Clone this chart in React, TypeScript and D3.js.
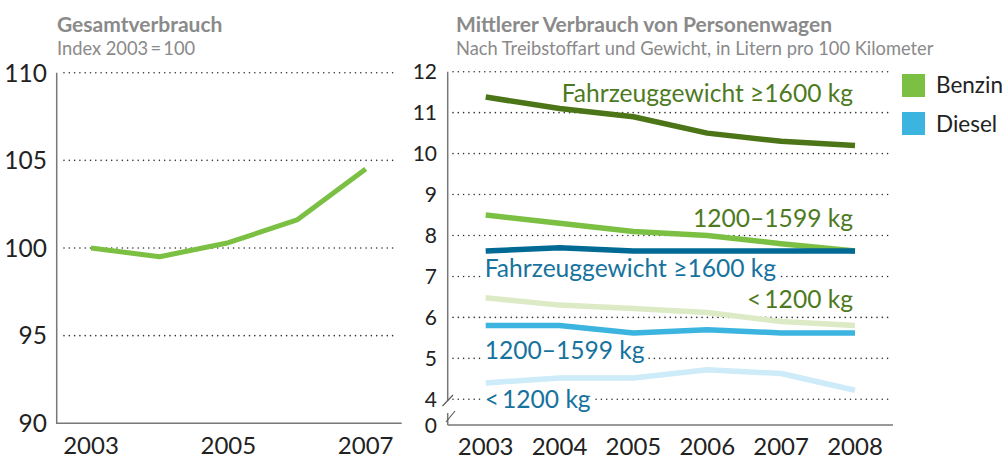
import React, { useEffect, useRef } from "react";
import * as d3 from "d3";

// Gesamtverbrauch, Index 2003 = 100
const totalYears = [2003, 2004, 2005, 2006, 2007];
const totalIndex = [100, 99.5, 100.3, 101.6, 104.5];
const totalTicks = [90, 95, 100, 105, 110];
const totalYearTicks = [2003, 2005, 2007];

// Mittlerer Verbrauch, l/100 km
const years = [2003, 2004, 2005, 2006, 2007, 2008];
const benzinHeavy = [11.38, 11.1, 10.9, 10.5, 10.3, 10.2];
const benzinMid = [8.5, 8.3, 8.1, 8.0, 7.8, 7.62];
const benzinLight = [6.48, 6.3, 6.22, 6.12, 5.9, 5.8];
const dieselHeavy = [7.62, 7.7, 7.62, 7.62, 7.62, 7.62];
const dieselMid = [5.8, 5.8, 5.62, 5.7, 5.62, 5.62];
const dieselLight = [4.4, 4.52, 4.52, 4.72, 4.63, 4.22];
const rightTicks = [4, 5, 6, 7, 8, 9, 10, 11, 12];

const legendItems = ["Benzin", "Diesel"];

const GREEN = "#7bc043";
const BLUE = "#3cb4e0";
const GREEN_TEXT = "#4e7a1f";
const BLUE_TEXT = "#17739e";

const series = [
  { values: benzinLight, color: "#dcebc5" },
  { values: dieselLight, color: "#cdebf8" },
  { values: dieselMid, color: BLUE },
  { values: benzinMid, color: GREEN },
  { values: dieselHeavy, color: "#006a94" },
  { values: benzinHeavy, color: "#4b7517" },
];

// annotation texts, anchored in data units (year, value)
const seriesLabels = [
  { text: "Fahrzeuggewicht \u22651600 kg", year: 2008, value: 11.26, color: GREEN_TEXT, anchor: "end", bg: false },
  { text: "1200\u20131599 kg", year: 2008, value: 8.21, color: GREEN_TEXT, anchor: "end", bg: false },
  { text: "<\u20091200 kg", year: 2008, value: 6.23, color: GREEN_TEXT, anchor: "end", bg: false },
  { text: "Fahrzeuggewicht \u22651600 kg", year: 2003, value: 6.99, color: BLUE_TEXT, anchor: "start", bg: true },
  { text: "1200\u20131599 kg", year: 2003, value: 4.98, color: BLUE_TEXT, anchor: "start", bg: true },
  { text: "<\u20091200 kg", year: 2003, value: 3.79, color: BLUE_TEXT, anchor: "start", bg: true },
];

const FONT = "Lato, 'Noto Sans', sans-serif";

const App: React.FC = () => {
  const svgRef = useRef<SVGSVGElement>(null);

  useEffect(() => {
    if (!svgRef.current) return;
    const svg = d3.select(svgRef.current);
    svg.selectAll("*").remove();
    svg.attr("font-family", FONT);

    // ---------- left chart ----------
    const lx = d3.scaleLinear().domain([2003, 2007]).range([91, 365.7]);
    const ly = d3.scaleLinear().domain([90, 110]).range([423.3, 72.7]);

    svg.append("text").attr("x", 57).attr("y", 32).attr("font-size", 21).attr("font-weight", 700)
      .attr("fill", "#8a8a8a").text("Gesamtverbrauch");
    svg.append("text").attr("x", 57).attr("y", 55).attr("font-size", 18.3).attr("fill", "#8a8a8a")
      .text("Index 2003\u2009=\u2009100");

    const left = svg.append("g");
    left.selectAll("line.grid").data(totalTicks.filter((t) => t > 90)).join("line")
      .attr("x1", 64).attr("x2", 397)
      .attr("y1", (d) => ly(d)).attr("y2", (d) => ly(d))
      .attr("stroke", "#333").attr("stroke-width", 1.6)
      .attr("stroke-dasharray", "0 5.3").attr("stroke-linecap", "round");
    left.selectAll("text.tick").data(totalTicks).join("text")
      .attr("x", 47).attr("y", (d) => ly(d)).attr("dy", "0.36em")
      .attr("text-anchor", "end").attr("font-size", 24.5).attr("fill", "#222")
      .text((d) => d);
    left.selectAll("text.year").data(totalYearTicks).join("text")
      .attr("x", (d) => lx(d)).attr("y", 454)
      .attr("text-anchor", "middle").attr("font-size", 24).attr("fill", "#222")
      .text((d) => d);
    left.append("line").attr("x1", 56.7).attr("x2", 56.7).attr("y1", ly(110)).attr("y2", ly(90))
      .attr("stroke", "#777").attr("stroke-width", 1.5);
    left.append("line").attr("x1", 56).attr("x2", 401.7).attr("y1", ly(90)).attr("y2", ly(90))
      .attr("stroke", "#777").attr("stroke-width", 1.5);

    const leftLine = d3.line<number>().x((_, i) => lx(totalYears[i])).y((d) => ly(d));
    left.append("path").datum(totalIndex).attr("d", leftLine)
      .attr("fill", "none").attr("stroke", GREEN).attr("stroke-width", 5).attr("stroke-linejoin", "round");

    // ---------- right chart ----------
    const rx = d3.scaleLinear().domain([2003, 2008]).range([485.7, 855]);
    const ry = d3.scaleLinear().domain([4, 12]).range([399.3, 71.7]);
    const axisX = 447.7;
    const baseY = 425;

    svg.append("text").attr("x", 456).attr("y", 32).attr("font-size", 21).attr("font-weight", 700)
      .attr("fill", "#8a8a8a").text("Mittlerer Verbrauch von Personenwagen");
    svg.append("text").attr("x", 456).attr("y", 55).attr("font-size", 18.3).attr("fill", "#8a8a8a")
      .text("Nach Treibstoffart und Gewicht, in Litern pro 100 Kilometer");

    const right = svg.append("g");
    right.selectAll("line.grid").data(rightTicks).join("line")
      .attr("x1", 453).attr("x2", 892)
      .attr("y1", (d) => ry(d)).attr("y2", (d) => ry(d))
      .attr("stroke", "#333").attr("stroke-width", 1.6)
      .attr("stroke-dasharray", "0 5.3").attr("stroke-linecap", "round");
    right.selectAll("text.tick").data(rightTicks).join("text")
      .attr("x", 437).attr("y", (d) => ry(d)).attr("dy", "0.36em")
      .attr("text-anchor", "end").attr("font-size", 21).attr("fill", "#222")
      .text((d) => d);
    right.append("text").attr("x", 437).attr("y", baseY).attr("dy", "0.36em")
      .attr("text-anchor", "end").attr("font-size", 21).attr("fill", "#222").text("0");
    right.selectAll("text.year").data(years).join("text")
      .attr("x", (d) => rx(d)).attr("y", 455)
      .attr("text-anchor", "middle").attr("font-size", 24).attr("fill", "#222")
      .text((d) => d);

    // axis with break between 4 and 0
    right.append("line").attr("x1", axisX).attr("x2", axisX).attr("y1", ry(12)).attr("y2", 401)
      .attr("stroke", "#777").attr("stroke-width", 1.5);
    right.append("line").attr("x1", axisX).attr("x2", axisX).attr("y1", 413).attr("y2", baseY)
      .attr("stroke", "#777").attr("stroke-width", 1.5);
    [[442.5, 406, 453, 395], [446, 422, 455, 411]].forEach(([a, b, c, e]) => {
      right.append("line").attr("x1", a).attr("y1", b).attr("x2", c).attr("y2", e)
        .attr("stroke", "#555").attr("stroke-width", 1.1);
    });
    right.append("line").attr("x1", axisX).attr("x2", 893).attr("y1", baseY).attr("y2", baseY)
      .attr("stroke", "#777").attr("stroke-width", 1.5);

    const rLine = d3.line<number>().x((_, i) => rx(years[i])).y((d) => ry(d));
    series.forEach((s) => {
      right.append("path").datum(s.values).attr("d", rLine)
        .attr("fill", "none").attr("stroke", s.color).attr("stroke-width", 5.5)
        .attr("stroke-linejoin", "round");
    });

    seriesLabels.forEach((l) => {
      const g = right.append("g");
      const t = g.append("text")
        .attr("x", rx(l.year) + (l.anchor === "start" ? -1 : -2)).attr("y", ry(l.value))
        .attr("text-anchor", l.anchor).attr("font-size", 24.6).attr("fill", l.color)
        .text(l.text);
      if (l.bg) {
        const bb = (t.node() as SVGTextElement).getBBox();
        g.insert("rect", "text").attr("x", bb.x - 3).attr("y", ry(l.value) - 12)
          .attr("width", bb.width + 6).attr("height", 14).attr("fill", "#fff");
      }
    });

    // legend
    const legend = svg.append("g");
    legendItems.forEach((name, i) => {
      legend.append("rect").attr("x", 902).attr("y", 74 + i * 38).attr("width", 23).attr("height", 23)
        .attr("fill", i === 0 ? GREEN : BLUE);
      legend.append("text").attr("x", 936).attr("y", 93 + i * 38.5).attr("font-size", 22.5)
        .attr("fill", "#222").text(name);
    });
  }, []);

  return (
    <svg
      ref={svgRef}
      width={1004}
      height={459}
      style={{ position: "absolute", left: 0, top: 0, background: "#fff" }}
    />
  );
};

export default App;
